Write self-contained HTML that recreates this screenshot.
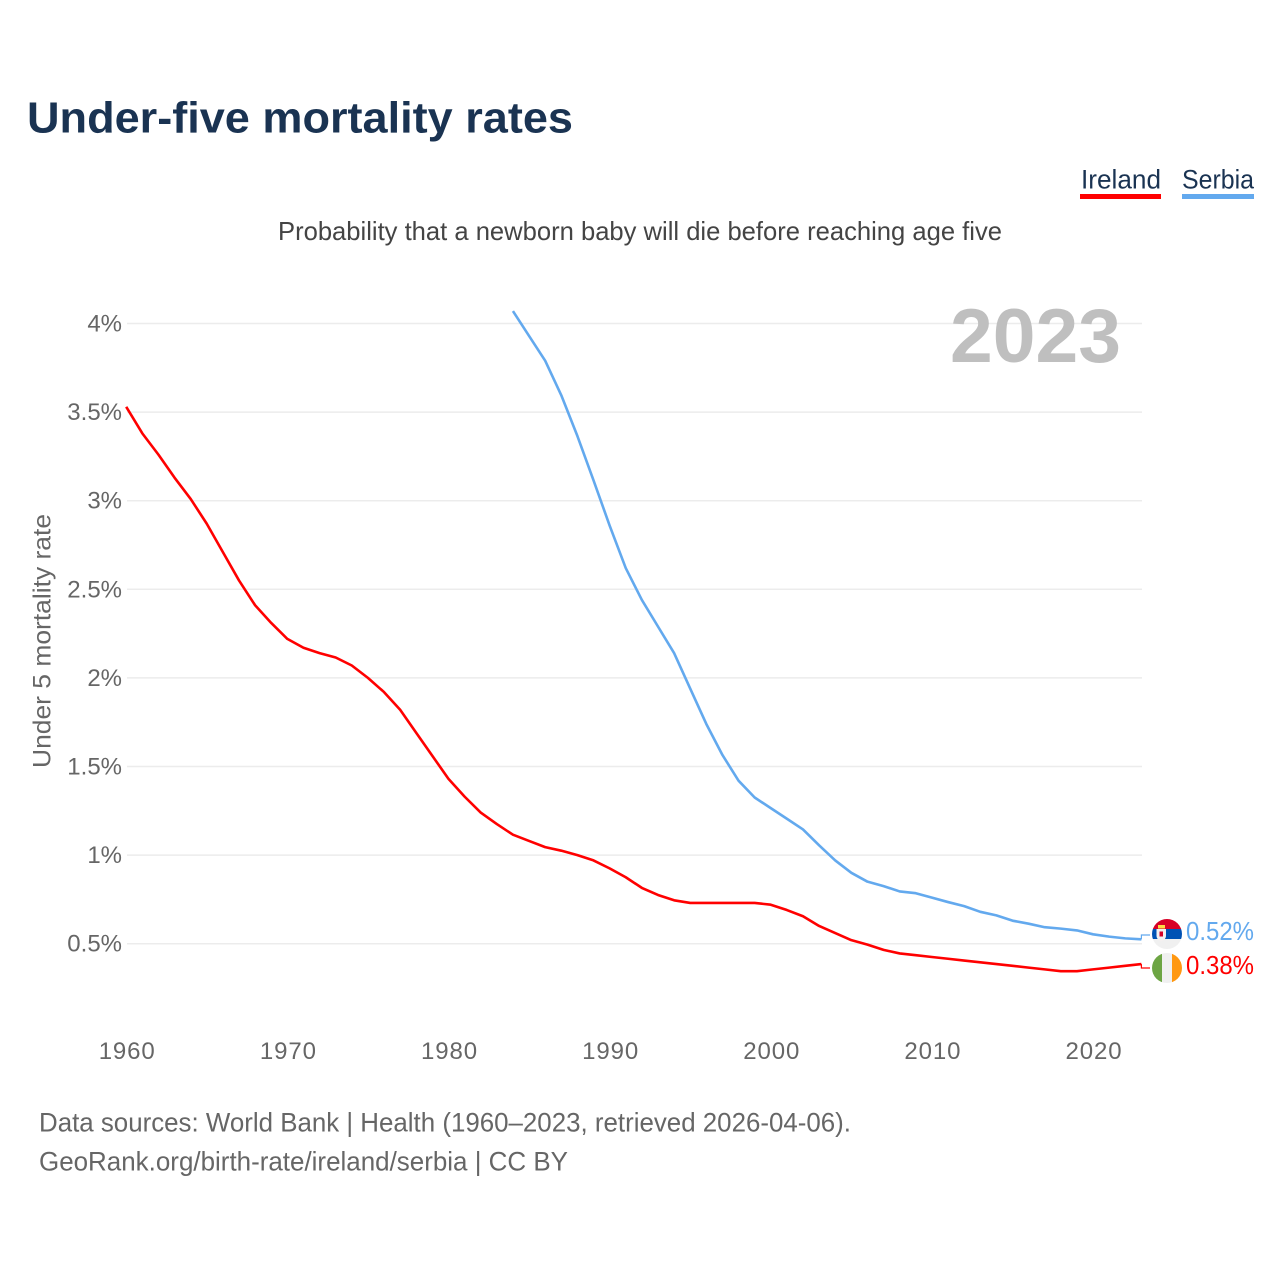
<!DOCTYPE html>
<html lang="en">
<head>
<meta charset="utf-8">
<title>Under-five mortality rates</title>
<style>
html,body{margin:0;padding:0;background:#fff;}
svg{display:block;font-family:"Liberation Sans",sans-serif;}
</style>
</head>
<body>
<svg id="chart" xmlns="http://www.w3.org/2000/svg" width="1280" height="1280" viewBox="0 0 1280 1280">
  <rect x="0" y="0" width="1280" height="1280" fill="#fff"/>
  <text x="27" y="132.5" font-size="44" font-weight="700" fill="#1a3352" textLength="546" lengthAdjust="spacingAndGlyphs">Under-five mortality rates</text>
  <g>
    <g>
      <text x="1081" y="188.5" font-size="27" fill="#1a3352" textLength="80" lengthAdjust="spacingAndGlyphs">Ireland</text>
      <rect x="1080" y="194" width="81" height="5" fill="#ff0000"/>
    </g>
    <g>
      <text x="1182" y="188.5" font-size="27" fill="#1a3352" textLength="72" lengthAdjust="spacingAndGlyphs">Serbia</text>
      <rect x="1182" y="194" width="72" height="5" fill="#63a9ee"/>
    </g>
  </g>
  <text x="278" y="240" font-size="26" fill="#444" textLength="724" lengthAdjust="spacingAndGlyphs">Probability that a newborn baby will die before reaching age five</text>
  <text transform="translate(50.5,641) rotate(-90)" text-anchor="middle" font-size="25" fill="#666" textLength="254" lengthAdjust="spacingAndGlyphs">Under 5 mortality rate</text>
  <g id="grid"></g>
  <g id="y-ticks"></g>
  <g id="x-ticks"></g>
  <text x="950" y="362" font-size="76" font-weight="700" fill="#bfbfbf" textLength="171" lengthAdjust="spacingAndGlyphs">2023</text>
  <g id="series"></g>
  <g>
    <clipPath id="clip-rs"><circle cx="1167" cy="934" r="15"/></clipPath>
    <g clip-path="url(#clip-rs)">
      <rect x="1152" y="919" width="30" height="10" fill="#d80027"/>
      <rect x="1152" y="929" width="30" height="10" fill="#0052b4"/>
      <rect x="1152" y="939" width="30" height="10" fill="#f0f0f0"/>
    </g>
    <rect x="1158" y="925" width="7" height="3.5" fill="#ffda44"/>
    <path d="M1156.5 929h9.5v7q0 3.5 -4.75 5.5q-4.75 -2 -4.75 -5.5z" fill="#f4f0f0"/>
    <rect x="1159.5" y="931.5" width="3.5" height="5" fill="#d80027"/>
  </g>
  <g>
    <clipPath id="clip-ie"><circle cx="1167" cy="968" r="15"/></clipPath>
    <g clip-path="url(#clip-ie)">
      <rect x="1152" y="953" width="10" height="30" fill="#6da544"/>
      <rect x="1162" y="953" width="10" height="30" fill="#f0f0f0"/>
      <rect x="1172" y="953" width="10" height="30" fill="#ff9811"/>
    </g>
  </g>
  <text x="1186" y="940" font-size="26" fill="#63a9ee" textLength="68" lengthAdjust="spacingAndGlyphs">0.52%</text>
  <text x="1186" y="974" font-size="26" fill="#ff0000" textLength="68" lengthAdjust="spacingAndGlyphs">0.38%</text>
  <text x="39" y="1131.5" font-size="26.5" fill="#666" textLength="812" lengthAdjust="spacingAndGlyphs">Data sources: World Bank | Health (1960–2023, retrieved 2026-04-06).</text>
  <text x="39" y="1170.5" font-size="26.5" fill="#666" textLength="529" lengthAdjust="spacingAndGlyphs">GeoRank.org/birth-rate/ireland/serbia | CC BY</text>
</svg>
<script>
var yTickValues = [0.5, 1, 1.5, 2, 2.5, 3, 3.5, 4];
var yTickLabels = ["0.5%", "1%", "1.5%", "2%", "2.5%", "3%", "3.5%", "4%"];
var xTickYears = [1960, 1970, 1980, 1990, 2000, 2010, 2020];
var irelandStartYear = 1960;
var irelandValues = [3.53, 3.38, 3.26, 3.13, 3.01, 2.87, 2.71, 2.55, 2.41, 2.31, 2.22, 2.17, 2.14, 2.115, 2.07, 2.0, 1.92, 1.82, 1.69, 1.56, 1.43, 1.33, 1.24, 1.175, 1.115, 1.08, 1.045, 1.025, 1.0, 0.97, 0.925, 0.875, 0.815, 0.775, 0.745, 0.73, 0.73, 0.73, 0.73, 0.73, 0.72, 0.69, 0.655, 0.6, 0.56, 0.52, 0.495, 0.465, 0.445, 0.435, 0.425, 0.415, 0.405, 0.395, 0.385, 0.375, 0.365, 0.355, 0.345, 0.345, 0.355, 0.365, 0.375, 0.385];
var serbiaStartYear = 1984;
var serbiaValues = [4.07, 3.93, 3.79, 3.595, 3.365, 3.115, 2.86, 2.62, 2.44, 2.29, 2.14, 1.94, 1.74, 1.565, 1.42, 1.325, 1.265, 1.205, 1.145, 1.055, 0.97, 0.9, 0.85, 0.825, 0.795, 0.785, 0.76, 0.735, 0.712, 0.68, 0.66, 0.63, 0.613, 0.593, 0.585, 0.575, 0.553, 0.54, 0.53, 0.525];

var SVG_NS = "http://www.w3.org/2000/svg";
function xScale(year) { return 126.2 + (year - 1960) * (1141.4 - 126.2) / 63; }
function yScale(v) { return 1032.3 - v * 177.2; }

var grid = document.getElementById("grid");
var yTicks = document.getElementById("y-ticks");
yTickValues.forEach(function (v, i) {
  var line = document.createElementNS(SVG_NS, "line");
  
  
  line.setAttribute("x1", 127);
  line.setAttribute("x2", 1142);
  line.setAttribute("y1", yScale(v));
  line.setAttribute("y2", yScale(v));
  line.setAttribute("stroke", "#ececec");
  line.setAttribute("stroke-width", "1.5");
  grid.appendChild(line);

  var t = document.createElementNS(SVG_NS, "text");
  
  
  t.setAttribute("x", 122);
  t.setAttribute("y", yScale(v) + 8);
  t.setAttribute("text-anchor", "end");
  t.setAttribute("font-size", "24");
  t.setAttribute("fill", "#666");
  t.textContent = yTickLabels[i];
  yTicks.appendChild(t);
});

var xTicks = document.getElementById("x-ticks");
xTickYears.forEach(function (year) {
  var t = document.createElementNS(SVG_NS, "text");
  
  
  t.setAttribute("x", xScale(year) + 1);
  t.setAttribute("y", 1059);
  t.setAttribute("text-anchor", "middle");
  t.setAttribute("font-size", "24");
  t.setAttribute("letter-spacing", "0.9");
  t.setAttribute("fill", "#666");
  t.textContent = String(year);
  xTicks.appendChild(t);
});

function linePath(startYear, values) {
  return values.map(function (v, i) {
    return (i ? "L" : "M") + xScale(startYear + i).toFixed(2) + " " + yScale(v).toFixed(2);
  }).join(" ");
}

var seriesGroup = document.getElementById("series");

var irelandLine = document.createElementNS(SVG_NS, "path");


irelandLine.setAttribute("d", linePath(irelandStartYear, irelandValues));
irelandLine.setAttribute("fill", "none");
irelandLine.setAttribute("stroke", "#ff0000");
irelandLine.setAttribute("stroke-width", "2.6");
irelandLine.setAttribute("stroke-linejoin", "round");
seriesGroup.appendChild(irelandLine);

var serbiaLine = document.createElementNS(SVG_NS, "path");


serbiaLine.setAttribute("d", linePath(serbiaStartYear, serbiaValues));
serbiaLine.setAttribute("fill", "none");
serbiaLine.setAttribute("stroke", "#63a9ee");
serbiaLine.setAttribute("stroke-width", "2.6");
serbiaLine.setAttribute("stroke-linejoin", "round");
seriesGroup.appendChild(serbiaLine);

var lastX = xScale(2023);

var irelandConnector = document.createElementNS(SVG_NS, "path");


irelandConnector.setAttribute("d", "M" + lastX + " " + yScale(irelandValues[irelandValues.length - 1]) + " V968 H1150");
irelandConnector.setAttribute("fill", "none");
irelandConnector.setAttribute("stroke", "#ff0000");
irelandConnector.setAttribute("stroke-width", "1.2");
seriesGroup.appendChild(irelandConnector);

var serbiaConnector = document.createElementNS(SVG_NS, "path");


serbiaConnector.setAttribute("d", "M" + lastX + " " + yScale(serbiaValues[serbiaValues.length - 1]) + " V935 H1150");
serbiaConnector.setAttribute("fill", "none");
serbiaConnector.setAttribute("stroke", "#63a9ee");
serbiaConnector.setAttribute("stroke-width", "1.2");
seriesGroup.appendChild(serbiaConnector);
</script>
</body>
</html>
